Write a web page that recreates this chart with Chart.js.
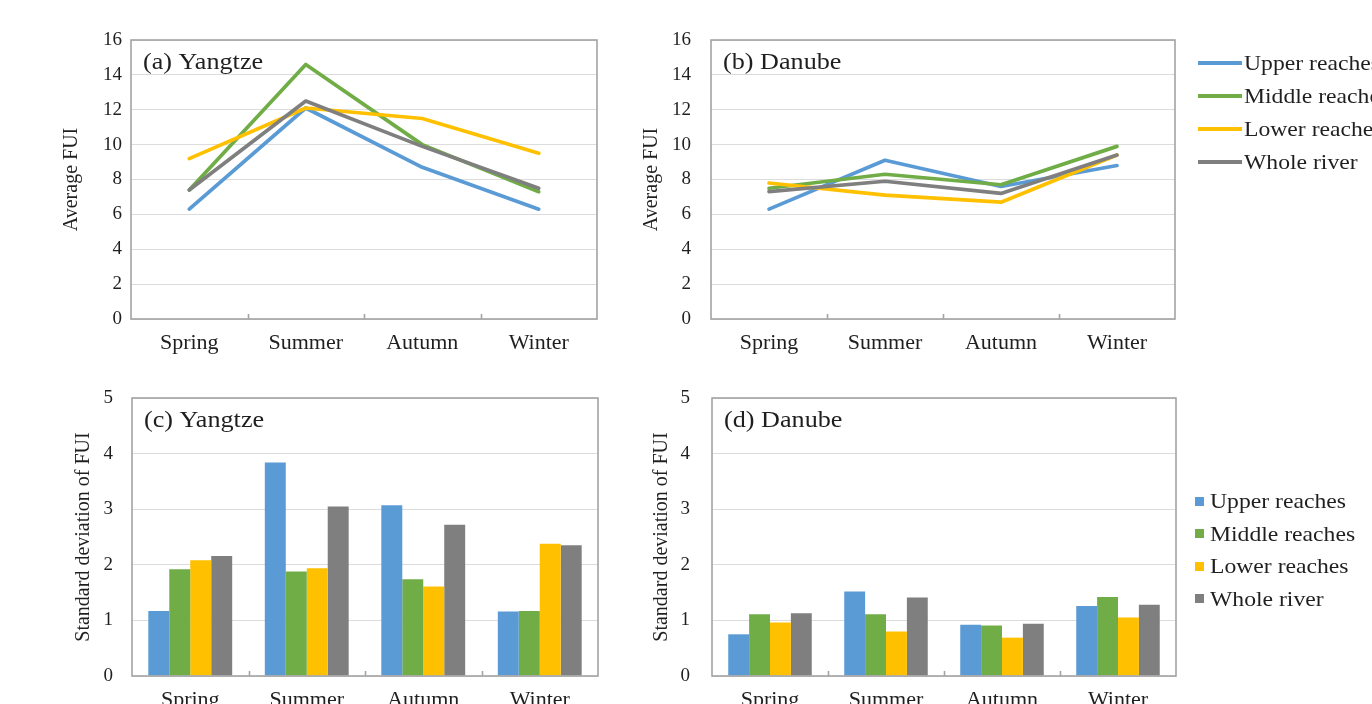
<!DOCTYPE html>
<html>
<head>
<meta charset="utf-8">
<script src="https://cdn.jsdelivr.net/npm/chart.js@4/dist/chart.umd.min.js"></script>
<style>
  html, body { margin: 0; padding: 0; background: #fff; overflow: hidden; }
  #fig { position: relative; width: 1372px; height: 704px; overflow: hidden;
         font-family: "Liberation Serif", "Times New Roman", serif; color: #1f1f1f; }
  canvas.panel { position: absolute; left: 0; top: 0; }
  .legend-row { position: absolute; height: 24px; display: flex; align-items: center;
                white-space: nowrap; font-size: 21.5px; line-height: 24px; }
  .legend-row .txt { display: inline-block; transform: scaleX(1.1); transform-origin: 0 50%; }
  .swatch-line { width: 44px; height: 3.6px; margin-right: 2px; flex: none; }
  .swatch-box { width: 9px; height: 9px; margin-right: 6px; flex: none; }
</style>
</head>
<body>
<div id="fig">
  <canvas id="meanYangtze" class="panel" width="1372" height="760"></canvas>
  <canvas id="meanDanube" class="panel" width="1372" height="760"></canvas>
  <canvas id="sdYangtze" class="panel" width="1372" height="760"></canvas>
  <canvas id="sdDanube" class="panel" width="1372" height="760"></canvas>
</div>
<script>
// Seasons and river sections
const seasons = ['Spring', 'Summer', 'Autumn', 'Winter'];
const reachNames = ['Upper reaches', 'Middle reaches', 'Lower reaches', 'Whole river'];
const reachColors = ['#5B9BD5', '#70AD47', '#FFC000', '#7F7F7F'];

// Average FUI per season
const yangtzeMeanUpper  = [6.3, 12.1, 8.7, 6.3];
const yangtzeMeanMiddle = [7.4, 14.6, 10.0, 7.3];
const yangtzeMeanLower  = [9.2, 12.1, 11.5, 9.5];
const yangtzeMeanWhole  = [7.4, 12.5, 9.9, 7.5];

const danubeMeanUpper  = [6.3, 9.1, 7.6, 8.8];
const danubeMeanMiddle = [7.5, 8.3, 7.7, 9.9];
const danubeMeanLower  = [7.8, 7.1, 6.7, 9.4];
const danubeMeanWhole  = [7.3, 7.9, 7.2, 9.4];

// Standard deviation of FUI per season
const yangtzeSdUpper  = [1.17, 3.84, 3.07, 1.16];
const yangtzeSdMiddle = [1.92, 1.88, 1.74, 1.17];
const yangtzeSdLower  = [2.08, 1.94, 1.61, 2.38];
const yangtzeSdWhole  = [2.16, 3.05, 2.72, 2.35];

const danubeSdUpper  = [0.75, 1.52, 0.92, 1.26];
const danubeSdMiddle = [1.11, 1.11, 0.91, 1.42];
const danubeSdLower  = [0.96, 0.80, 0.69, 1.05];
const danubeSdWhole  = [1.13, 1.41, 0.94, 1.28];

const SERIF = '"Liberation Serif", "Times New Roman", serif';
const TEXT = '#1f1f1f';
const W = 1372, H = 760;   // canvas size; the figure box crops it to 704 px high

// Frame around the plot area, inward category ticks and the panel caption
const framePlugin = {
  id: 'frame',
  afterDatasetsDraw(chart, args, opts) {
    const { ctx, chartArea: a, scales: { x } } = chart;
    ctx.save();
    ctx.strokeStyle = '#a3a3a3';
    ctx.lineWidth = 1.6;
    ctx.strokeRect(a.left, a.top, a.right - a.left, a.bottom - a.top);
    for (let i = 1; i < x.ticks.length; i++) {
      const px = Math.round((x.getPixelForTick(i - 1) + x.getPixelForTick(i)) / 2) + 0.5;
      ctx.beginPath();
      ctx.moveTo(px, a.bottom);
      ctx.lineTo(px, a.bottom - 5);
      ctx.stroke();
    }
    ctx.fillStyle = TEXT;
    ctx.font = '24px ' + SERIF;
    ctx.textBaseline = 'middle';
    ctx.textAlign = 'left';
    ctx.translate(a.left + 12, a.top + 23);
    ctx.scale(1.09, 1);
    ctx.fillText(opts.caption, 0, 0);
    ctx.restore();
  }
};

function makePanel(id, type, series, p) {
  const xH = 40;
  const padLeft = p.titleX - 12;
  const datasets = series.map((values, i) => {
    const base = { label: reachNames[i], data: values };
    if (type === 'line') {
      return Object.assign(base, {
        borderColor: reachColors[i], backgroundColor: reachColors[i],
        borderWidth: 3.7, pointRadius: 0, tension: 0,
        borderJoinStyle: 'round', borderCapStyle: 'round',
        order: series.length - i
      });
    }
    return Object.assign(base, {
      backgroundColor: reachColors[i], borderWidth: 0,
      categoryPercentage: 0.72, barPercentage: 1.0
    });
  });
  return new Chart(document.getElementById(id), {
    type,
    data: { labels: seasons, datasets },
    plugins: [framePlugin],
    options: {
      responsive: false,
      animation: false,
      events: [],
      layout: { padding: {
        left: padLeft, top: p.area.top,
        right: W - p.area.right, bottom: H - p.area.bottom - xH } },
      plugins: {
        legend: { display: false }, tooltip: { enabled: false },
        frame: { caption: p.caption }
      },
      scales: {
        x: {
          offset: true,
          grid: { display: false, drawTicks: false },
          border: { display: false },
          ticks: { color: TEXT, padding: p.xPad, maxRotation: 0, autoSkip: false,
                   font: { family: SERIF, size: 22 } },
          afterFit(s) { s.height = xH; }
        },
        y: {
          min: 0, max: p.yMax,
          ticks: { stepSize: p.yStep, padding: p.tickGap, color: TEXT,
                   font: { family: SERIF, size: 19 } },
          grid: { color: '#dcdcdc', lineWidth: 1, drawTicks: false },
          border: { display: false },
          title: { display: true, text: p.yTitle, color: TEXT, padding: 0,
                   font: { family: SERIF, size: 20 } },
          afterFit(s) { s.width = p.area.left - padLeft; }
        }
      }
    }
  });
}

const chartA = makePanel('meanYangtze', 'line',
  [yangtzeMeanUpper, yangtzeMeanMiddle, yangtzeMeanLower, yangtzeMeanWhole],
  { area: { left: 131, top: 40, right: 597, bottom: 319 }, titleX: 72, tickGap: 9,
    xPad: 11.5, yMax: 16, yStep: 2, yTitle: 'Average FUI', caption: '(a) Yangtze' });

const chartB = makePanel('meanDanube', 'line',
  [danubeMeanUpper, danubeMeanMiddle, danubeMeanLower, danubeMeanWhole],
  { area: { left: 711, top: 40, right: 1175, bottom: 319 }, titleX: 652, tickGap: 20,
    xPad: 11.5, yMax: 16, yStep: 2, yTitle: 'Average FUI', caption: '(b) Danube' });

const chartC = makePanel('sdYangtze', 'bar',
  [yangtzeSdUpper, yangtzeSdMiddle, yangtzeSdLower, yangtzeSdWhole],
  { area: { left: 132, top: 398, right: 598, bottom: 676 }, titleX: 84, tickGap: 19,
    xPad: 11, yMax: 5, yStep: 1, yTitle: 'Standard deviation of FUI', caption: '(c) Yangtze' });

const chartD = makePanel('sdDanube', 'bar',
  [danubeSdUpper, danubeSdMiddle, danubeSdLower, danubeSdWhole],
  { area: { left: 712, top: 398, right: 1176, bottom: 676 }, titleX: 662, tickGap: 22,
    xPad: 11, yMax: 5, yStep: 1, yTitle: 'Standard deviation of FUI', caption: '(d) Danube' });

// Legends built from the chart datasets
function buildLegend(chart, kind, left, centers) {
  const fig = document.getElementById('fig');
  chart.data.datasets.forEach((ds, i) => {
    const row = document.createElement('div');
    row.className = 'legend-row';
    row.style.left = left + 'px';
    row.style.top = (centers[i] - 12) + 'px';
    const sw = document.createElement('span');
    sw.className = kind === 'line' ? 'swatch-line' : 'swatch-box';
    sw.style.background = kind === 'line' ? ds.borderColor : ds.backgroundColor;
    const label = document.createElement('span');
    label.className = 'txt';
    label.textContent = ds.label;
    row.appendChild(sw);
    row.appendChild(label);
    fig.appendChild(row);
  });
}
buildLegend(chartB, 'line', 1198, [63, 96, 129, 162]);
buildLegend(chartD, 'bar', 1195, [501, 533.5, 566, 598.5]);
</script>
</body>
</html>
